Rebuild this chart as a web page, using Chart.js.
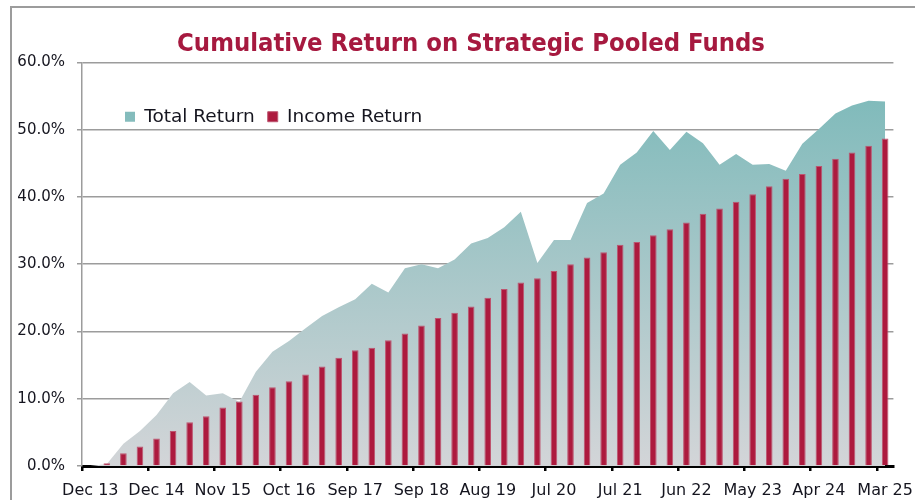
<!DOCTYPE html>
<html>
<head>
<meta charset="utf-8">
<title>Cumulative Return on Strategic Pooled Funds</title>
<script src="https://cdn.jsdelivr.net/npm/chart.js@4.4.1/dist/chart.umd.min.js"></script>
<style>
    html, body { margin: 0; padding: 0; background: #fff; overflow: hidden; }
    #frame {
        position: absolute; left: 10px; top: 6px;
        width: 1000px; height: 1000px;
        border-top: 2px solid #9c9c9c; border-left: 2px solid #9c9c9c;
    }
    #chart { position: absolute; left: 0; top: 0; }
</style>
</head>
<body>
<div id="frame"></div>
<canvas id="chart" width="915" height="500"></canvas>
<script>
// Cumulative returns (%), one value per period; labels are shown every 4th period
const totalReturn = [0, 0.3, 3.3, 5.2, 7.6, 10.8, 12.5, 10.5, 10.8, 9.5,
    14.0, 17.0, 18.6, 20.5, 22.3, 23.6, 24.8, 27.1, 25.8, 29.4,
    30.0, 29.4, 30.7, 33.1, 33.9, 35.5, 37.8, 30.2, 33.6, 33.6,
    39.1, 40.5, 44.8, 46.6, 49.8, 47.0, 49.7, 48.0, 44.8, 46.4,
    44.8, 44.9, 43.9, 47.9, 50.1, 52.4, 53.6, 54.3, 54.2];

const incomeReturn = [0, 0.4, 1.9, 2.9, 4.1, 5.2, 6.5, 7.4, 8.7, 9.6,
    10.6, 11.7, 12.6, 13.6, 14.8, 16.1, 17.2, 17.6, 18.7, 19.7,
    20.9, 22.0, 22.8, 23.7, 25.0, 26.3, 27.3, 27.9, 29.0, 30.0,
    31.0, 31.8, 32.9, 33.3, 34.3, 35.2, 36.2, 37.5, 38.3, 39.3,
    40.4, 41.6, 42.7, 43.4, 44.6, 45.7, 46.6, 47.6, 48.7];

const tickLabels = ['Dec 13', 'Dec 14', 'Nov 15', 'Oct 16', 'Sep 17', 'Sep 18', 'Aug 19',
    'Jul 20', 'Jul 21', 'Jun 22', 'May 23', 'Apr 24', 'Mar 25'];
const periodsPerLabel = 4;

const seriesNames = ['Total Return', 'Income Return'];

const textColor = '#15151f';
const gridColor = '#9c9c9c';
const barColor = '#ad1a3e';

// each period sits in the middle of its slot on the x scale
const toPoints = (values) => values.map((v, i) => ({ x: i + 0.5, y: v }));

function areaGradient(context) {
    const area = context.chart.chartArea;
    if (!area) return '#9cc4c4';
    const g = context.chart.ctx.createLinearGradient(0, area.top, 0, area.bottom);
    g.addColorStop(0, '#78b8b8');
    g.addColorStop(1, '#d3d5d8');
    return g;
}

// legend sits as one row inside the plot, title a bit right of centre
const placeBlocks = {
    id: 'placeBlocks',
    afterInit(chart) {
        if (chart.legend) chart.legend.isHorizontal = () => true;
    },
    afterLayout(chart) {
        const t = chart.titleBlock;
        if (t) { t.left += 21.5; t.right += 21.5; }
        const lg = chart.legend;
        if (lg) {
            lg.left = chart.chartArea.left + 30;
            lg.right = lg.left + lg.width;
            lg.top += 32; lg.bottom += 32;
        }
    }
};

const ctx = document.getElementById('chart').getContext('2d');
new Chart(ctx, {
    type: 'bar',
    data: {
        datasets: [
            {
                type: 'bar',
                label: seriesNames[1],
                data: toPoints(incomeReturn),
                backgroundColor: barColor,
                borderColor: '#bd5570',
                borderWidth: 1,
                barPercentage: 0.4,
                categoryPercentage: 1.0
            },
            {
                type: 'line',
                label: seriesNames[0],
                data: toPoints(totalReturn),
                fill: 'origin',
                backgroundColor: areaGradient,
                borderWidth: 0,
                borderColor: 'rgba(0,0,0,0)',
                pointRadius: 0,
                tension: 0
            }
        ]
    },
    options: {
        responsive: false,
        animation: false,
        devicePixelRatio: 1,
        layout: { padding: { left: 0, right: 16, top: 0, bottom: 0 } },
        plugins: {
            title: {
                display: true,
                text: 'Cumulative Return on Strategic Pooled Funds',
                color: '#a6193f',
                font: { family: "'DejaVu Sans Condensed', 'DejaVu Sans'", size: 25.4, weight: 'bold' },
                padding: { top: 29, bottom: 3 }
            },
            legend: {
                position: 'chartArea',
                align: 'start',
                labels: {
                    color: textColor,
                    font: { family: 'DejaVu Sans', size: 18.5 },
                    boxWidth: 10,
                    boxHeight: 10,
                    padding: 13,
                    sort: (a, b) => b.datasetIndex - a.datasetIndex
                }
            },
            tooltip: { enabled: false }
        },
        scales: {
            x: {
                type: 'linear',
                min: 0,
                max: totalReturn.length,
                offset: false,
                afterBuildTicks: (scale) => {
                    scale.ticks = tickLabels.map((_, k) => ({ value: k * periodsPerLabel }));
                },
                afterFit: (scale) => { scale.height = 34; },
                ticks: {
                    callback: (value) => tickLabels[value / periodsPerLabel],
                    autoSkip: false,
                    maxRotation: 0,
                    padding: 10,
                    labelOffset: 8.3,   // labels sit under the period, ticks on its left edge
                    color: textColor,
                    font: { family: 'DejaVu Sans', size: 16 }
                },
                grid: {
                    drawOnChartArea: false,
                    drawTicks: true,
                    tickLength: 5,
                    color: '#000',
                    lineWidth: 2.5,
                    offset: false
                },
                border: { display: true, color: '#000', width: 3 }
            },
            y: {
                min: 0,
                max: 60,
                afterFit: (scale) => { scale.width = 82; },
                ticks: {
                    stepSize: 10,
                    callback: (value) => value.toFixed(1) + '%',
                    padding: 12,
                    color: textColor,
                    font: { family: 'DejaVu Sans', size: 15 }
                },
                grid: {
                    color: gridColor,
                    lineWidth: 1.5,
                    tickLength: 5,
                    drawTicks: true
                },
                border: { display: true, color: gridColor, width: 1.5 }
            }
        }
    },
    plugins: [placeBlocks]
});
</script>
</body>
</html>
